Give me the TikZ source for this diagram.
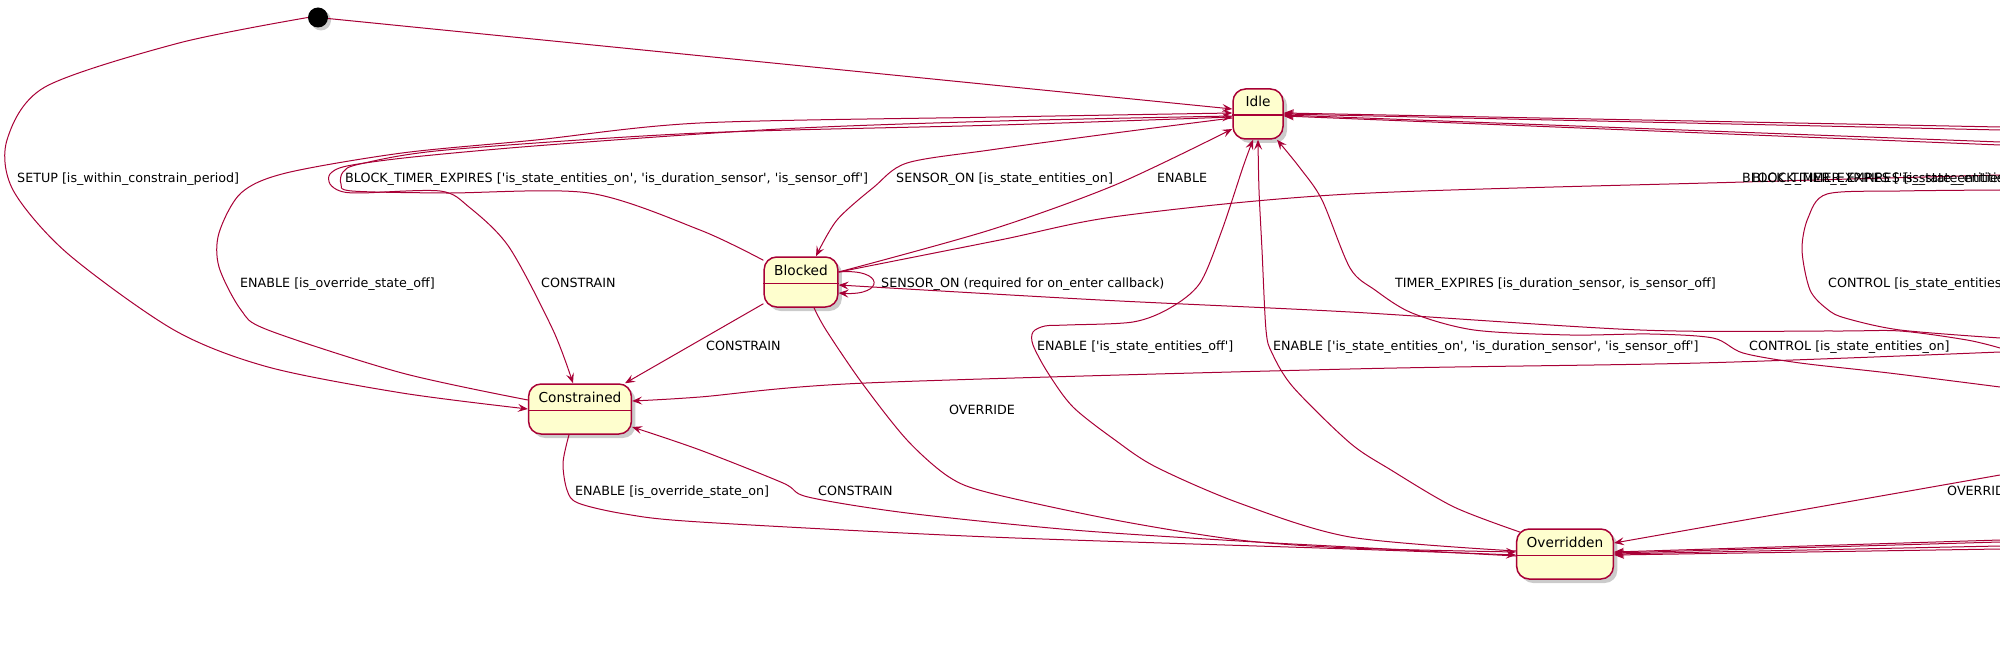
\documentclass[tikz,border=0pt]{standalone}
\usepackage{fontspec}
\newfontfamily\umlfont{DejaVu Sans}
\usetikzlibrary{arrows.meta, shadows}
\definecolor{umlred}{RGB}{168,0,54}
\definecolor{umlyellow}{RGB}{254,254,206}
\newcommand\lblfont{\umlfont\fontsize{12.7}{15}\selectfont}
\newcommand\statefont{\umlfont\fontsize{13.7}{16}\selectfont}
\tikzset{
  state/.style={draw=umlred, fill=umlyellow, line width=1.5pt, rounded corners=12.5pt,
    minimum width=50pt, inner xsep=10pt, inner ysep=0pt, text height=18pt, text depth=32pt,
    font=\statefont, drop shadow={shadow xshift=4pt, shadow yshift=-4pt, fill=black!45, opacity=0.45}},
  initial/.style={circle, fill=black, minimum size=20pt, inner sep=0pt,
    drop shadow={shadow xshift=3pt, shadow yshift=-3pt, fill=black!45, opacity=0.45}},
  sep/.style={draw=umlred, line width=1.5pt},
  link/.style={draw=umlred, line width=1pt},
  tr/.style={link, -{Stealth[length=10pt, width=8pt, inset=4pt]}},
  lbl/.style={anchor=west, inner sep=0pt, font=\lblfont, text height=8.5pt, text depth=0pt},
}

\begin{document}
\begin{tikzpicture}[x=1pt, y=-1pt]
\useasboundingbox (0,0) rectangle (2000,663);
\clip (0,0) rectangle (2000,663);

\node[initial] (init) at (318,17.5) {};
\node[state] (idle) at (1258,114) {Idle};
\node[state] (blocked) at (801,282) {Blocked};
\node[state] (constrained) at (580,409) {Constrained};
\node[state] (overridden) at (1565,554) {Overridden};
\foreach \s in {idle,blocked,constrained,overridden}
  \draw[sep] ([yshift=-27pt]\s.north west) -- ([yshift=-27pt]\s.north east);

\coordinate (exitA) at (2000,127);
\coordinate (exitB) at (2000,130);
\coordinate (exitC) at (2000,142);
\coordinate (exitD) at (2000,145);
\coordinate (exitE) at (2000,175);
\coordinate (exitF) at (2000,190);
\coordinate (exitG) at (2000,338);
\coordinate (exitH) at (2000,348);
\coordinate (exitI) at (2000,352);
\coordinate (exitJ) at (2000,387);
\coordinate (exitK) at (2000,475);
\coordinate (exitL) at (2000,540);
\coordinate (exitM) at (2000,542);
\coordinate (exitN) at (2000,546);
\coordinate (exitO) at (2000,549);

\draw[tr] (init) -- ([yshift=5pt]idle.west);
\draw[tr] plot[smooth] coordinates {(init.west) (179,43) (45,87) (7,140) (13,190) (67,253) (174,330) (268,367) (402,393) (constrained.west)};
\draw[tr] plot[smooth] coordinates {([yshift=9pt]constrained.west) (402,373) (268,330) (241,310) (219,267) (219,233) (241,193) (286,173) (402,153) (536,140) (700,123) (1000,117) ([yshift=1pt]idle.west)};
\draw[tr] plot[smooth] coordinates {([yshift=-2pt]idle.west) (1000,121) (780,129) (547,145) (413,157) (347,166) (330,174) (330,184) (340,191) (360,193) (440,191) (469,207) (509,247) (553,330) ([xshift=-7pt]constrained.north)};
\draw[tr] plot[smooth] coordinates {(blocked.150) (700,230) (589,193) (446,193) (352,191) (341,184) (343,172) (360,164) (446,150) (700,133) (1000,125) ([yshift=-3pt]idle.west)};
\draw[tr] plot[smooth] coordinates {([yshift=-4pt]idle.west) (1115,133) (990,150) (907,163) (874,187) (837,220) ([xshift=15pt]blocked.north)};
\draw[tr] plot[smooth] coordinates {([yshift=10pt]blocked.east) (990,230) (1115,185) ([yshift=-15pt]idle.west)};
\draw[tr] ([yshift=10pt]blocked.east) .. controls (885,268) and (885,296) .. ([yshift=-11pt]blocked.east);
\draw[link] plot[smooth] coordinates {([yshift=10pt]blocked.east) (1000,240) (1120,216) (1350,194) (1744,182) (exitE)};
\draw[tr] plot[smooth] coordinates {(exitH) (1967,340) (1900,331) (1833,331) (1640,330) (1350,312) (1100,300) ([yshift=-3pt]blocked.east)};
\draw[tr] (blocked.210) -- ([xshift=45pt]constrained.north);
\draw[tr] plot[smooth] coordinates {([xshift=13pt]blocked.south) (826,330) (862,383) (907,440) (949,477) (990,493) (1115,520) (1239,540) (1350,548) ([yshift=2pt]overridden.west)};
\draw[tr] plot[smooth] coordinates {([xshift=-11pt]constrained.south) (563,463) (567,490) (578,503) (625,514) (700,522) (990,537) (1350,549) ([yshift=-1pt]overridden.west)};
\draw[tr] plot[smooth] coordinates {([yshift=-2pt]overridden.west) (1350,547) (1239,541) (1073,530) (907,513) (808,497) (783,483) (700,450) ([yshift=-18pt]constrained.east)};
\draw[tr] plot[smooth] coordinates {([yshift=3pt]overridden.west) (1350,537) (1239,503) (1156,467) (1115,440) (1073,407) (1048,373) (1033,345) (1033,332) (1045,326) (1067,325) (1133,322) (1170,308) (1200,283) (1222,230) (1243,167) ([xshift=-5pt]idle.south)};
\draw[tr] plot[smooth] coordinates {([shift={(3.7pt,-3.7pt)}]overridden.north west) (1454,507) (1391,470) (1350,443) (1293,387) (1272,353) (1266,330) (1262,250) (1259,190) (idle.south)};
\draw[tr] plot[smooth] coordinates {(exitJ) (1889,373) (1800,363) (1743,353) (1713,338) (1650,334) (1570,335) (1474,330) (1412,313) (1375,290) (1350,268) (1322,200) (1300,168) ([xshift=19pt]idle.south)};
\draw[tr] plot[smooth] coordinates {(exitI) (1700,363) (1350,369) (866,383) (700,397) ([yshift=8pt]constrained.east)};
\draw[link] plot[smooth] coordinates {(exitF) (1900,191) (1827,194) (1808,218) (1802,250) (1810,290) (1827,309) (1845,318) (1900,330) (exitG)};
\draw[tr] (exitA) -- ([yshift=1pt]idle.east);
\draw[tr] (exitB) -- (idle.east);
\draw[tr] (exitC) -- ([yshift=-1pt]idle.east);
\draw[tr] (exitD) -- ([yshift=-2pt]idle.east);
\draw[tr] (exitK) -- ([yshift=11pt]overridden.east);
\draw[tr] (exitL) -- ([yshift=2pt]overridden.east);
\draw[tr] (exitM) -- ([yshift=1pt]overridden.east);
\draw[tr] (exitN) -- (overridden.east);
\draw[tr] (exitO) -- ([yshift=-1pt]overridden.east);

\node[lbl] (l-setup) at (17,178) {SETUP [is\_within\_constrain\_period]};
\node[lbl] (l-blocktimer) at (345,178) {BLOCK\_TIMER\_EXPIRES ['is\_state\_entities\_on', 'is\_duration\_sensor', 'is\_sensor\_off']};
\node[lbl] (l-sensoron) at (896,178) {SENSOR\_ON [is\_state\_entities\_on]};
\node[lbl] (l-enable) at (1157,178) {ENABLE};
\node[lbl] (l-blocktimer2) at (1742,178) {BLOCK\_TIMER\_EXPIRES ['is\_state\_entities\_on', 'is\_duration\_sensor', 'is\_sensor\_off']};
\node[lbl] (l-blocktimer3) at (1752,178) {BLOCK\_TIMER\_EXPIRES [is\_state\_entities\_on]};
\node[lbl] (l-enableoff) at (240,283) {ENABLE [is\_override\_state\_off]};
\node[lbl] (l-constrain) at (541,283) {CONSTRAIN};
\node[lbl] (l-sensorloop) at (881,283) {SENSOR\_ON (required for on\_enter callback)};
\node[lbl] (l-timer) at (1395,283) {TIMER\_EXPIRES [is\_duration\_sensor, is\_sensor\_off]};
\node[lbl] (l-control) at (1828,283) {CONTROL [is\_state\_entities\_off]};
\node[lbl] (l-constrain2) at (706,346) {CONSTRAIN};
\node[lbl] (l-enableentoff) at (1037,346) {ENABLE ['is\_state\_entities\_off']};
\node[lbl] (l-enableenton) at (1273,346) {ENABLE ['is\_state\_entities\_on', 'is\_duration\_sensor', 'is\_sensor\_off']};
\node[lbl] (l-control2) at (1749,346) {CONTROL [is\_state\_entities\_on]};
\node[lbl] (l-override) at (949,410) {OVERRIDE};
\node[lbl] (l-enableon) at (575,491) {ENABLE [is\_override\_state\_on]};
\node[lbl] (l-constrain3) at (818,491) {CONSTRAIN};
\node[lbl] (l-override2) at (1947,491) {OVERRIDE};
\end{tikzpicture}
\end{document}
